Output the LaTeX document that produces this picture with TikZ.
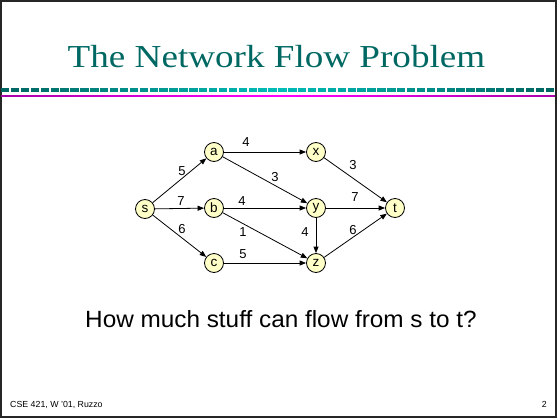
\documentclass[tikz,border=0pt]{standalone}
\usepackage{fontspec}
\setmainfont{Liberation Sans}
\newfontfamily\titlefont{Liberation Serif}
\usetikzlibrary{arrows.meta}
\definecolor{titleteal}{RGB}{0,104,98}
\definecolor{nodefill}{RGB}{255,255,200}
\definecolor{tealdark}{RGB}{0,100,96}
\definecolor{teallight}{RGB}{0,190,184}
\definecolor{magdark}{RGB}{170,0,170}
\definecolor{maglight}{RGB}{255,0,255}
\tikzset{
  vertex/.style={circle, draw=black, line width=0.8pt, fill=nodefill,
    minimum size=19pt, inner sep=0pt, font=\fontsize{13.5}{13.5}\selectfont},
  flow/.style={-{Triangle[length=6.5pt,width=5pt]}, line width=0.8pt},
  capacity/.style={font=\fontsize{13}{13}\selectfont, inner sep=0pt},
}
\begin{document}
\begin{tikzpicture}[x=1pt,y=-1pt]
  % page frame
  \useasboundingbox (0,0) rectangle (560,418);
  \draw[line width=2pt, black!85] (1,1) rectangle (556,417);

  % title
  \node[font=\titlefont\fontsize{32}{32}\selectfont, text=titleteal, anchor=base,
        inner sep=0pt]
    (title) at (276.5,67) {\scalebox{1.16}[1]{The Network Flow Problem}};

  % rule under the title: dashed teal bar and thin magenta line, lighter towards the middle
  \foreach \i in {0,...,55} {
    \pgfmathsetmacro{\xa}{1+\i*9.9}
    \pgfmathsetmacro{\xb}{\xa+8.4}
    \pgfmathsetmacro{\mixv}{100-abs(\xa+4-278)/278*100}
    \fill[teallight!\mixv!tealdark] (\xa,87.8) rectangle (\xb,91.5);
    \fill[maglight!\mixv!magdark] (\xa,94.8) rectangle (\xa+9.9,96.8);
  }

  % network
  \node[vertex] (s) at (145,209) {s};
  \node[vertex] (a) at (214,152) {a};
  \node[vertex] (b) at (214,208) {b};
  \node[vertex] (c) at (214,263) {c};
  \node[vertex] (x) at (316,152) {x};
  \node[vertex] (y) at (316,208) {y};
  \node[vertex] (z) at (316,263) {z};
  \node[vertex] (t) at (395,208) {t};

  \draw[flow] (s) -- (a);
  \draw[flow] (s) -- (b);
  \draw[flow] (s) -- (c);
  \draw[flow] (a) -- (x);
  \draw[flow] (a) -- (y);
  \draw[flow] (b) -- (y);
  \draw[flow] (b) -- (z);
  \draw[flow] (c) -- (z);
  \draw[flow] (x) -- (t);
  \draw[flow] (y) -- (t);
  \draw[flow] (y) -- (z);
  \draw[flow] (z) -- (t);

  % capacities
  \node[capacity] (l1)  at (182,171) {5};
  \node[capacity] (l2)  at (181,201) {7};
  \node[capacity] (l3)  at (182,229) {6};
  \node[capacity] (l4)  at (246,142) {4};
  \node[capacity] (l5)  at (275,177) {3};
  \node[capacity] (l6)  at (242,201) {4};
  \node[capacity] (l7)  at (243,232) {1};
  \node[capacity] (l8)  at (243,254) {5};
  \node[capacity] (l9)  at (353,165) {3};
  \node[capacity] (l10) at (355,197) {7};
  \node[capacity] (l11) at (305,232) {4};
  \node[capacity] (l12) at (353,230) {6};

  % question
  \node[font=\fontsize{23.5}{23.5}\selectfont, anchor=base west, inner sep=0pt] (q)
    at (85,327) {\scalebox{1.035}[1]{How much stuff can flow from s to t?}};

  % footer
  \node[font=\fontsize{8.8}{8.8}\selectfont, anchor=base west, inner sep=0pt] (foot)
    at (10,407) {CSE 421, W '01, Ruzzo};
  \node[font=\fontsize{8.8}{8.8}\selectfont, anchor=base east, inner sep=0pt] (pg)
    at (547,407.5) {2};
\end{tikzpicture}
\end{document}
